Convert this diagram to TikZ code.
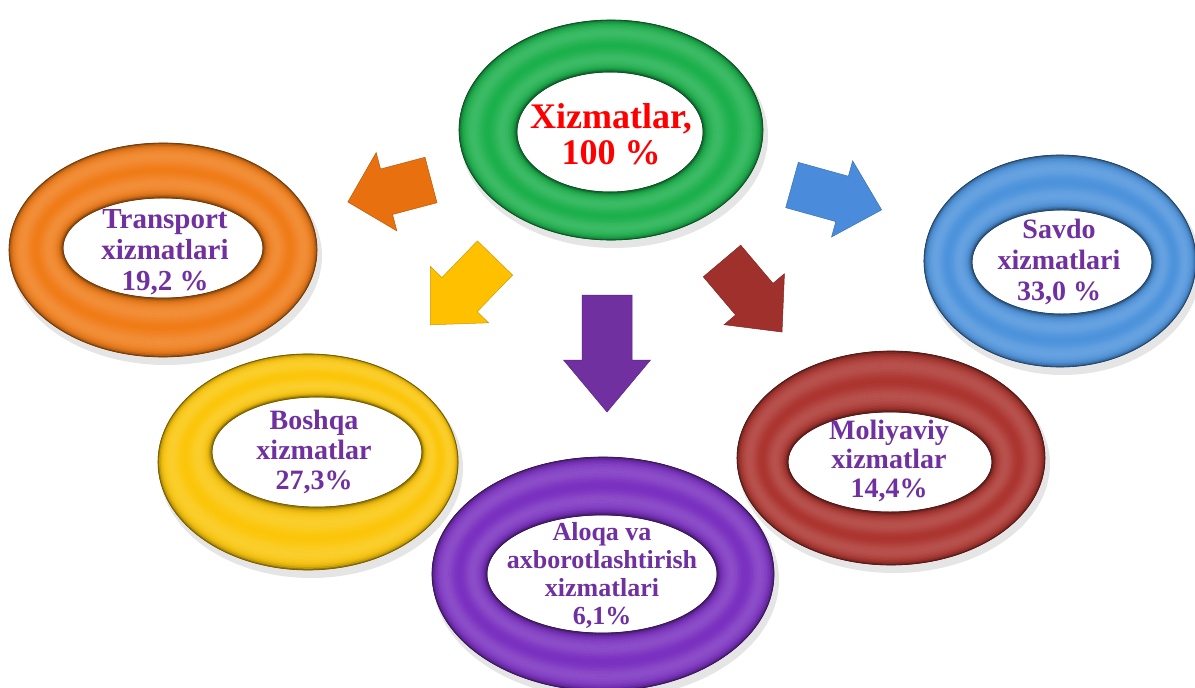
\documentclass[tikz,border=0pt]{standalone}
\usepackage{fontspec}
\setmainfont{Liberation Serif}
\definecolor{rgreen}{HTML}{1CB04C}
\definecolor{rorange}{HTML}{F07C18}
\definecolor{rblue}{HTML}{4D93DC}
\definecolor{ryellow}{HTML}{FBC60A}
\definecolor{rpurple}{HTML}{7A30C0}
\definecolor{rred}{HTML}{AC3530}
\definecolor{aorange}{HTML}{E8700F}
\definecolor{ayellow}{HTML}{FFC000}
\definecolor{ablue}{HTML}{4A8CDB}
\definecolor{ared}{HTML}{A0302B}
\definecolor{apurple}{HTML}{7030A0}
\definecolor{txtpurple}{HTML}{7030A0}
\newcommand\ringdraw[9]{%
  \colorlet{rb}{#1}%
  \fill[black, opacity=0.10, even odd rule] ({#2+3},{#3+6}) ellipse [x radius={#4+2}, y radius={#5+2}] (#6,#7) ellipse [x radius=#8, y radius=#9];
  \fill[rb, even odd rule] (#2,#3) ellipse [x radius=#4, y radius=#5] (#6,#7) ellipse [x radius=#8, y radius=#9];
  \foreach \k in {0,...,39}{
    \pgfmathsetmacro\t{(\k+0.5)/40}
    \pgfmathsetmacro\wv{100-14*(1-cos(720*\t))/2}
    \pgfmathsetmacro\dv{100-55*exp(-\t/0.04)-55*exp(-(1-\t)/0.04)}
    \draw[line width=1.8pt, color=rb!\wv!white!\dv!black] ({#2+\t*(#6-#2)},{#3+\t*(#7-#3)}) ellipse [x radius={#4+\t*(#8-#4)}, y radius={#5+\t*(#9-#5)}];
  }
  \draw[rb!45!black, line width=0.6pt] (#2,#3) ellipse [x radius=#4, y radius=#5] (#6,#7) ellipse [x radius=#8, y radius=#9];
}
\newcommand\blockarrow[8]{%
  \begin{scope}[shift={(#2,#3)}, rotate=#4]
    \fill[#1, draw=#1!80!black, line width=0.5pt] (0,{-#6/2}) -- ({#5-#8},{-#6/2}) -- ({#5-#8},{-#7/2}) -- (#5,0) -- ({#5-#8},{#7/2}) -- ({#5-#8},{#6/2}) -- (0,{#6/2}) -- cycle;
  \end{scope}}
\tikzset{
  lbl/.style={font=\bfseries\fontsize{28}{30}\selectfont, text=txtpurple, align=center, inner sep=0pt},
  ctr/.style={font=\bfseries\fontsize{36}{36}\selectfont, text=red, align=center, inner sep=0pt}
}
\begin{document}
\begin{tikzpicture}[x=1pt, y=-1pt]
\useasboundingbox[fill=white] (0,0) rectangle (1195,688);
% rings
\ringdraw{rgreen}{611}{130}{152}{110}{610}{132}{93}{60}
\ringdraw{rorange}{163}{250}{154}{107}{163}{248}{100}{50}
\ringdraw{rblue}{1060}{261}{136}{106}{1062}{262}{90}{52}
\ringdraw{ryellow}{308}{462}{150}{108}{317}{452}{105}{55}
\ringdraw{rred}{891}{458}{154}{107}{890}{462}{102}{50}
\ringdraw{rpurple}{603}{574}{171}{117}{602}{574}{115}{59}
% arrows
\blockarrow{aorange}{431}{180}{194.8}{86}{47}{81}{40}
\blockarrow{ayellow}{495}{258}{225.9}{93}{49}{81}{42}
\blockarrow{ablue}{792}{185}{-15.5}{93}{47}{79}{41}
\blockarrow{ared}{722}{261}{-49.8}{93}{49}{79}{43}
\blockarrow{apurple}{607}{295}{-90}{117}{50}{87}{52}
% labels
\node[ctr] (main) at (611,134) {Xizmatlar,\\100 \%};
\node[lbl, font=\bfseries\fontsize{29}{31}\selectfont] (transport) at (165,252) {Transport\\xizmatlari\\19,2 \%};
\node[lbl, font=\bfseries\fontsize{28}{31}\selectfont] (savdo) at (1059,262) {Savdo\\xizmatlari\\33,0 \%};
\node[lbl] (boshqa) at (314,452) {Boshqa\\xizmatlar\\27,3\%};
\node[lbl, font=\bfseries\fontsize{26}{28}\selectfont] (aloqa) at (602,575) {Aloqa va\\axborotlashtirish\\xizmatlari\\6,1\%};
\node[lbl, font=\bfseries\fontsize{28}{29}\selectfont] (moliya) at (889,461) {Moliyaviy\\xizmatlar\\14,4\%};
\end{tikzpicture}
\end{document}
